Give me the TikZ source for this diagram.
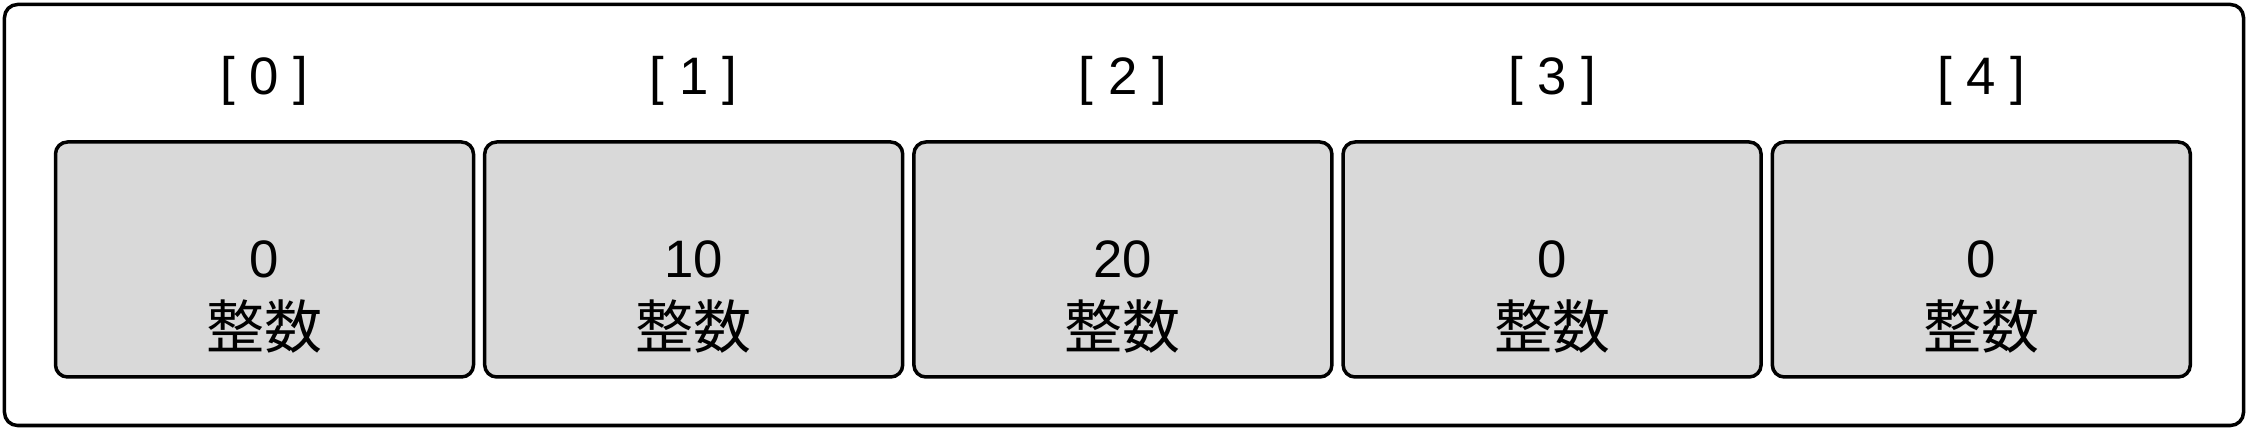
\documentclass[tikz,border=0pt]{standalone}
\usepackage{fontspec}
\setmainfont{Liberation Sans}
\newfontfamily\cjk{Noto Sans CJK JP}
\usetikzlibrary{positioning}
\definecolor{cellgray}{HTML}{D9D9D9}

\begin{document}
\begin{tikzpicture}
        \tikzstyle{cell}=[rectangle, rounded corners=0.12cm, draw, line width=0.035cm, fill=cellgray, minimum width=4.18cm, minimum height=2.35cm]
        \tikzstyle{kind}=[font=\cjk\fontsize{16.5}{20}\selectfont]
        \tikzstyle{every node}=[font=\fontsize{15}{18}\selectfont]
        \useasboundingbox (0,0) rectangle (22.48,4.30);
        \draw[line width=0.035cm, rounded corners=0.13cm] (0.045,0.045) rectangle (22.435,4.255);
        \node[cell] (c0) at (2.645,1.705) {};
        \node[cell, right=0.077cm of c0] (c1) {};
        \node[cell, right=0.077cm of c1] (c2) {};
        \node[cell, right=0.077cm of c2] (c3) {};
        \node[cell, right=0.077cm of c3] (c4) {};
        \node (i0) at ([yshift=0.59cm]c0.north) {[ 0 ]};
        \node (i1) at ([yshift=0.59cm]c1.north) {[ 1 ]};
        \node (i2) at ([yshift=0.59cm]c2.north) {[ 2 ]};
        \node (i3) at ([yshift=0.59cm]c3.north) {[ 3 ]};
        \node (i4) at ([yshift=0.59cm]c4.north) {[ 4 ]};
        \node (v0) at (c0) {0};
        \node (v1) at (c1) {10};
        \node (v2) at (c2) {20};
        \node (v3) at (c3) {0};
        \node (v4) at (c4) {0};
        \node[kind] (t0) at ([yshift=-0.675cm]c0.center) {整数};
        \node[kind] (t1) at ([yshift=-0.675cm]c1.center) {整数};
        \node[kind] (t2) at ([yshift=-0.675cm]c2.center) {整数};
        \node[kind] (t3) at ([yshift=-0.675cm]c3.center) {整数};
        \node[kind] (t4) at ([yshift=-0.675cm]c4.center) {整数};
\end{tikzpicture}
\end{document}
